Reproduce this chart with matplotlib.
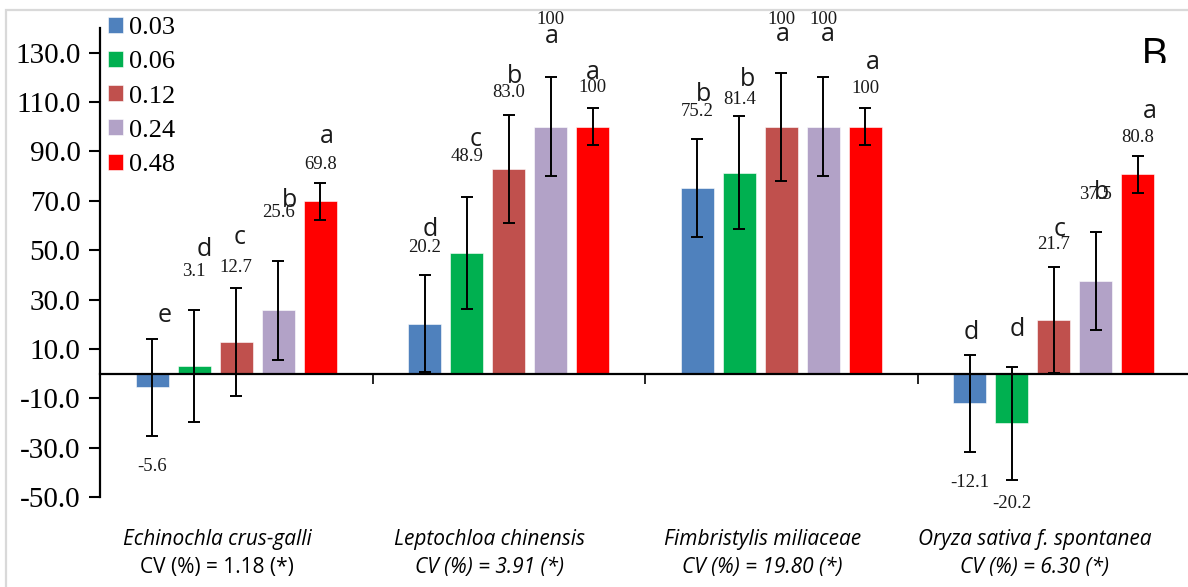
import numpy as np
import matplotlib.pyplot as plt
from matplotlib.patches import Rectangle
from matplotlib.transforms import Bbox, blended_transform_factory

# ---------------- data ----------------
species = ['Echinochla crus-galli', 'Leptochloa chinensis',
           'Fimbristylis miliaceae', 'Oryza sativa f. spontanea']
cv_labels = ['CV (%) = 1.18 (*)', 'CV (%) = 3.91 (*)',
             'CV (%) = 19.80 (*)', 'CV (%) = 6.30 (*)']
doses = ['0.03', '0.06', '0.12', '0.24', '0.48']
colors = ['#4F81BD', '#00B050', '#C0504D', '#B2A2C7', '#FF0000']

# control efficacy (%) per dose, one value per species
dose_003 = [-5.6, 20.2, 75.2, -12.1]
dose_006 = [3.1, 48.9, 81.4, -20.2]
dose_012 = [12.7, 83.0, 100, 21.7]
dose_024 = [25.6, 100, 100, 37.5]
dose_048 = [69.8, 100, 100, 80.8]

err_003 = [19.7, 19.7, 19.9, 19.8]
err_006 = [22.7, 22.8, 22.8, 22.8]
err_012 = [21.9, 21.8, 21.9, 21.6]
err_024 = [19.9, 20.0, 20.0, 19.8]
err_048 = [7.6, 7.5, 7.5, 7.5]

txt_003 = ['-5.6', '20.2', '75.2', '-12.1']
txt_006 = ['3.1', '48.9', '81.4', '-20.2']
txt_012 = ['12.7', '83.0', '100', '21.7']
txt_024 = ['25.6', '100', '100', '37.5']
txt_048 = ['69.8', '100', '100', '80.8']

let_003 = ['e', 'd', 'b', 'd']
let_006 = ['d', 'c', 'b', 'd']
let_012 = ['c', 'b', 'a', 'c']
let_024 = ['b', 'a', 'a', 'b']
let_048 = ['a', 'a', 'a', 'a']

values = [dose_003, dose_006, dose_012, dose_024, dose_048]
errors = [err_003, err_006, err_012, err_024, err_048]
texts = [txt_003, txt_006, txt_012, txt_024, txt_048]
letters = [let_003, let_006, let_012, let_024, let_048]

# label placement (hand placed in the original, y in data units)
val_y = [[-37.6, 50.9, 106, -44],
         [41.5, 87.8, 110.9, -52.6],
         [42.8, 113.7, 143.4, 52.1],
         [65.1, 143.4, 143.4, 72.4],
         [84.5, 115.8, 115.4, 95.5]]
let_y = [[23.7, 58.2, 113, 16.8],
         [50.1, 94.7, 119, 18],
         [55, 120.3, 137.3, 58.2],
         [70, 136.5, 137.3, 73.2],
         [96, 121.9, 125.9, 106]]
let_dx = [[12, 5, 6, 1],
          [10, 9, 8, 5],
          [3, 6, 2, 6],
          [11, 1, 5, 6],
          [7, 0, 8, 12]]

SERIF = ['Liberation Serif', 'DejaVu Serif']
SANS = ['Open Sans', 'DejaVu Sans']

fig = plt.figure(figsize=(11.88, 5.87), dpi=100)
ax = fig.add_axes([100/1188, 90/587, 1090/1188, 469/587])

x = np.arange(len(species))
step = 0.154
width = 0.121

for i in range(len(doses)):
    xs = x + (i - 2) * step
    ax.bar(xs, values[i], width, color=colors[i], edgecolor='white',
           linewidth=0.4, label=doses[i], zorder=1)
    ax.errorbar(xs, values[i], yerr=errors[i], fmt='none', ecolor='black',
                elinewidth=1.4, capsize=4.5, capthick=1.4, zorder=3)
    for j in range(len(species)):
        ax.text(xs[j], val_y[i][j], texts[i][j], ha='center', va='center',
                fontsize=13.5, family=SERIF, color='#1a1a1a')
        ax.annotate(letters[i][j], (xs[j], let_y[i][j]),
                    xytext=(let_dx[i][j], 0), textcoords='offset pixels',
                    ha='center', va='center', fontsize=18, family=SANS,
                    color='#1a1a1a', annotation_clip=False)

ax.set_xlim(-0.5, 3.5)
ax.set_ylim(-50, 140)
ax.set_yticks(np.arange(-50, 131, 20))
ax.set_yticklabels(['%.1f' % v for v in np.arange(-50, 131, 20)],
                   family=SERIF, fontsize=21)
ax.tick_params(axis='y', direction='out', length=8, width=1.5, pad=6)

ax.set_xticks([0.5, 1.5, 2.5])
ax.set_xticklabels([])
ax.tick_params(axis='x', direction='out', length=7, width=1.2)

ax.spines['top'].set_visible(False)
ax.spines['right'].set_visible(False)
ax.spines['bottom'].set_position(('data', 0))
ax.spines['left'].set_linewidth(1.6)
ax.spines['bottom'].set_linewidth(1.6)

# category labels under the plot
trans = blended_transform_factory(ax.transData, fig.transFigure)
for j in range(len(species)):
    ax.text(x[j] - 0.07, (587 - 540) / 587, species[j], transform=trans,
            ha='center', va='center', fontsize=15, family=SANS,
            style='italic')
    ax.text(x[j] - 0.07, (587 - 568) / 587, cv_labels[j], transform=trans,
            ha='center', va='center', fontsize=15, family=SANS,
            style='normal' if j == 0 else 'italic')

leg = ax.legend(loc='upper left', bbox_to_anchor=(108/1188, 1 - 17/587),
                bbox_transform=fig.transFigure, frameon=False,
                prop={'family': SERIF, 'size': 19}, handlelength=0.55,
                handleheight=0.55, handletextpad=0.25, labelspacing=0.45,
                borderpad=0, borderaxespad=0)

# panel letter, cut off at the bottom like the source
b = fig.text(1154/1188, 1 - 68/587, 'B', ha='center', va='baseline',
             fontsize=30, family=SANS)
b.set_clip_box(Bbox([[0, 587 - 63], [1188, 587]]))
b.set_clip_on(True)

# chart border
fig.add_artist(Rectangle((6/1188, -0.1), 1.0, 1.1 - 10/587,
                         transform=fig.transFigure, fill=False,
                         edgecolor='#D9D9D9', linewidth=1.6))

fig.savefig('out.png', dpi=100)
